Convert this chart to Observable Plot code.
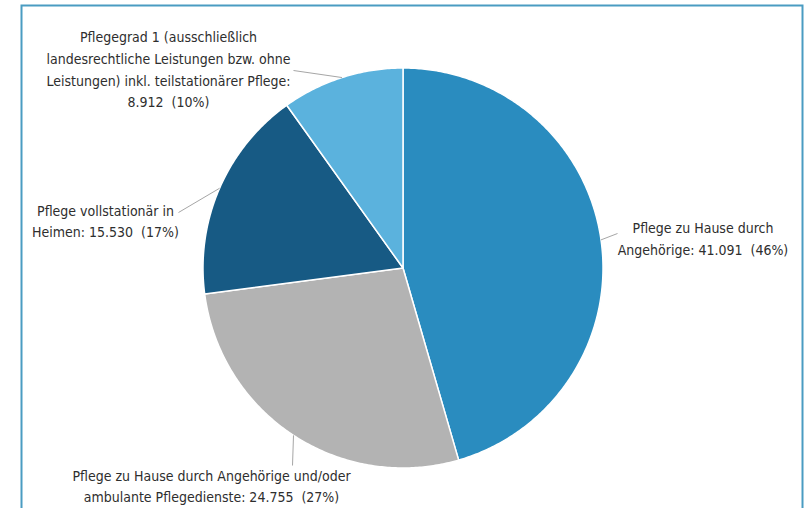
<!DOCTYPE html>
<html><head><meta charset="utf-8">
<script src="https://cdn.jsdelivr.net/npm/d3@7"></script>
<script src="https://cdn.jsdelivr.net/npm/@observablehq/plot@0.6"></script>
<style>html,body{margin:0;padding:0;background:#fff;overflow:hidden}
svg text{font-stretch:condensed}</style>
</head><body><div id="chart"></div>
<script>
// ---- data ----
const categories = [
  "Pflege zu Hause durch\nAngehörige",
  "Pflege zu Hause durch Angehörige und/oder\nambulante Pflegedienste",
  "Pflege vollstationär in\nHeimen",
  "Pflegegrad 1 (ausschließlich\nlandesrechtliche Leistungen bzw. ohne\nLeistungen) inkl. teilstationärer Pflege"
];
const values = [41091, 24755, 15530, 8912];
const colors = ["#2a8cbf", "#b3b3b3", "#175a84", "#5bb2dd"];

// ---- layout (unit-circle coordinates, pie radius = 1) ----
const labelX = [1.5, -0.9575, -1.4875, -1.1725];
const labelY = [0.155, -1.0825, 0.2425, 1.0];
const leaderX = [1.0725, -0.5525, -1.1225, -0.5475];
const leaderY = [0.1725, -0.9875, 0.2775, 0.9875];

const total = d3.sum(values);
const fmt = d3.formatLocale({decimal: ",", thousands: ".", grouping: [3], currency: ["", "€"]}).format(",d");
const data = categories.map((c, i) => ({cat: c, value: values[i], i}));
const arcs = d3.pie().sort(null).value(d => d.value)(data);

const slicePts = arcs.flatMap(a => {
  const n = Math.max(2, Math.ceil((a.endAngle - a.startAngle) / 0.01));
  const pts = [{cat: a.data.cat, x: 0, y: 0}];
  for (let k = 0; k <= n; k++) {
    const t = a.startAngle + (a.endAngle - a.startAngle) * k / n;
    pts.push({cat: a.data.cat, x: Math.sin(t), y: Math.cos(t)});
  }
  return pts;
});

const leaders = arcs.map(a => {
  const m = (a.startAngle + a.endAngle) / 2, i = a.data.i;
  return {x1: Math.sin(m), y1: Math.cos(m), x2: leaderX[i], y2: leaderY[i]};
});

const labels = arcs.map(a => {
  const i = a.data.i;
  const pct = Math.round(a.data.value / total * 100);
  const sep = i === 3 ? ":\n" : ": ";
  return {x: labelX[i], y: labelY[i], text: a.data.cat + sep + fmt(a.data.value) + "\u00a0 (" + pct + "%)"};
});

const chart = Plot.plot({
  width: 804, height: 520,
  marginLeft: 21, marginTop: 5, marginRight: 2, marginBottom: 0,
  x: {domain: [-1.9075, 1.9975], axis: null},
  y: {domain: [-1.2625, 1.3125], axis: null},
  color: {domain: categories, range: colors},
  style: {fontFamily: "'DejaVu Sans Condensed', 'DejaVu Sans', sans-serif", background: "#fff"},
  marks: [
    Plot.line(slicePts, {x: "x", y: "y", z: "cat", fill: "cat", stroke: "white", strokeWidth: 1.5, curve: "linear-closed"}),
    Plot.link(leaders, {x1: "x1", y1: "y1", x2: "x2", y2: "y2", stroke: "#a6a6a6", strokeWidth: 1}),
    Plot.text(labels, {x: "x", y: "y", text: "text", fontSize: 14, lineHeight: 1.55, textAnchor: "middle", fill: "#2e2e2e"}),
    Plot.frame({stroke: "#4a9cc2", strokeWidth: 2})
  ]
});
document.getElementById("chart").append(chart);
</script>
</body></html>
